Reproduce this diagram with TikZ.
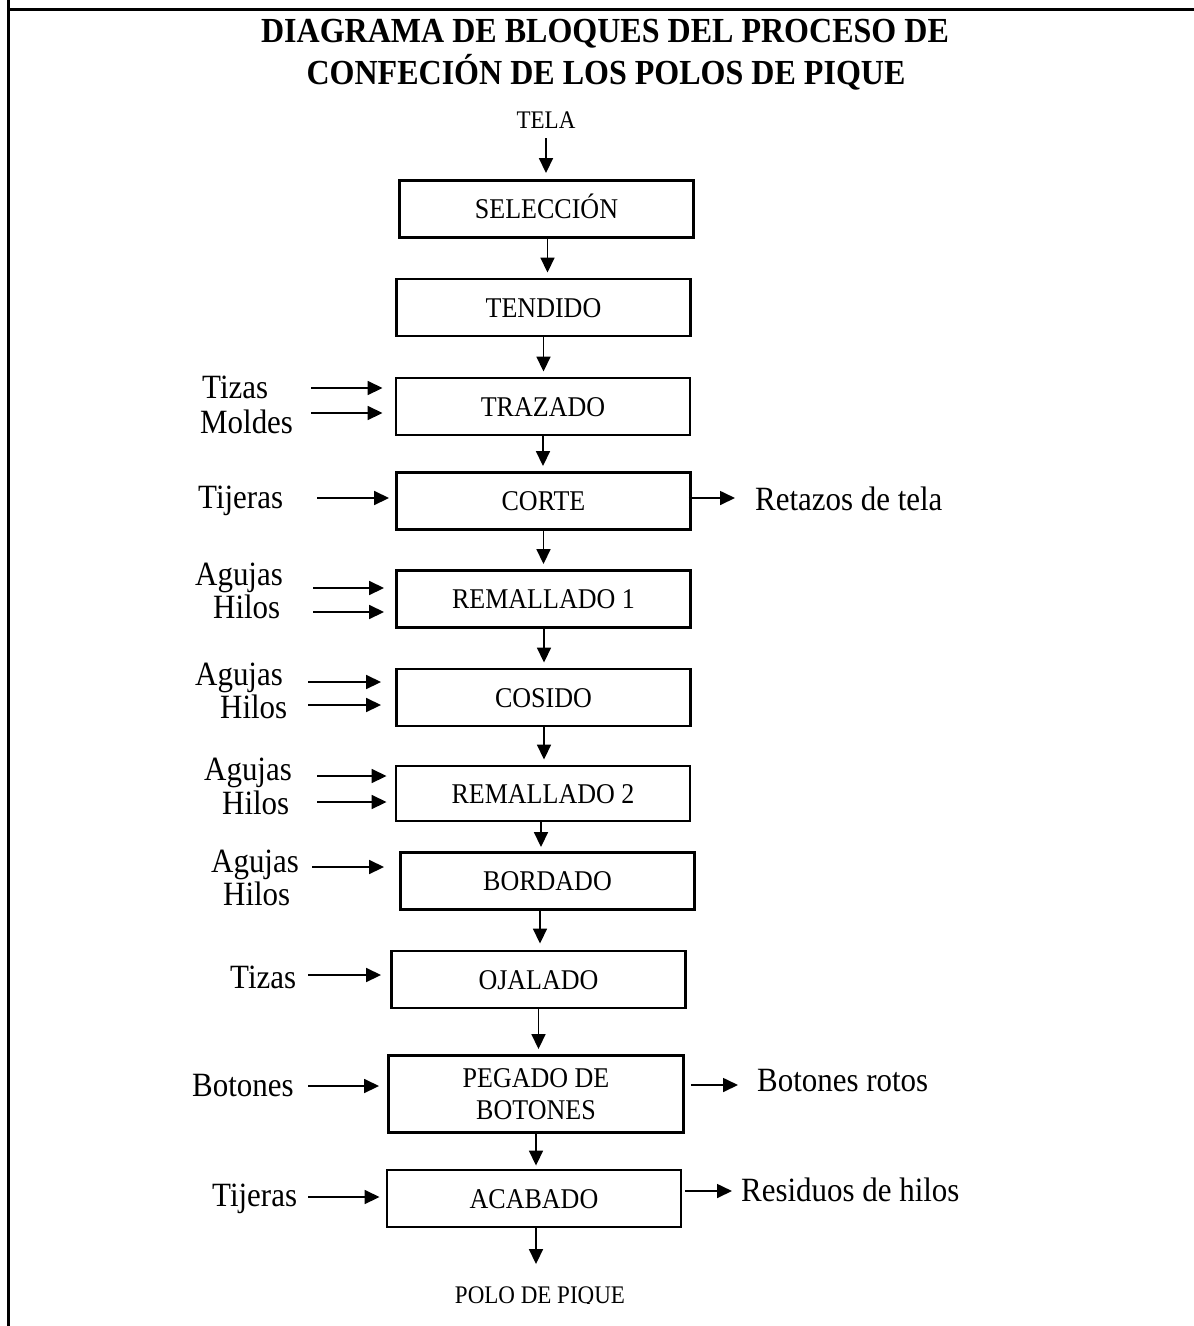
\documentclass[tikz,border=0pt]{standalone}
\usepackage{fontspec}
\setmainfont{Liberation Serif}[FakeStretch=0.91]
\usetikzlibrary{arrows.meta}
\begin{document}
\begin{tikzpicture}[x=1pt,y=-1pt,
  stagebase/.style={draw, line width=2.9pt, minimum width=294pt, minimum height=57pt,
    inner sep=0pt, font=\fontsize{28.6}{32}\selectfont},
  stage/.style={stagebase, text height=19pt, text depth=0pt},
  lbl/.style={anchor=base west, inner sep=0pt, font=\fontsize{34}{37}\selectfont},
  endtxt/.style={anchor=base, inner sep=0pt, font=\fontsize{25.3}{28}\selectfont},
  title/.style={anchor=base, inner sep=0pt, font=\bfseries\fontsize{35.2}{40}\selectfont},
  flow/.style={line width=1.7pt, -{Triangle[length=15pt,width=14pt]}},
]
\useasboundingbox (0,0) rectangle (1194,1326);

% cell border
\draw[line width=3pt] (8.5,0) -- (8.5,1326);
\draw[line width=3pt] (8.5,9) -- (1194,9);

% heading
\node[title] (t1) at (605,42) {DIAGRAMA DE BLOQUES DEL PROCESO DE};
\node[title] (t2) at (606,84) {CONFECIÓN DE LOS POLOS DE PIQUE};

% input and output of the line
\node[endtxt] (tela) at (546,128) {TELA};
\begin{scope}
  \clip (0,0) rectangle (1194,1303.5);
  \node[endtxt] (polo) at (540,1303) {POLO DE PIQUE};
\end{scope}

% process stages
\node[stage] (sel)  at (546.5,209)  {SELECCIÓN};
\node[stage] (ten)  at (543.5,307.5) {TENDIDO};
\node[stage] (tra)  at (543,406.5)  {TRAZADO};
\node[stage] (cor)  at (543.5,501)  {CORTE};
\node[stage] (rem1) at (543.5,599)  {REMALLADO 1};
\node[stage] (cos)  at (543.5,697.5) {COSIDO};
\node[stage, minimum height=55pt] (rem2) at (543,793.5) {REMALLADO 2};
\node[stage] (bor)  at (547.5,881)  {BORDADO};
\node[stage] (oja)  at (538.5,979.5) {OJALADO};
\node[stagebase, minimum width=295pt, minimum height=77pt, align=center] (peg) at (536,1094) {PEGADO DE\\BOTONES};
\node[stage] (aca)  at (534,1198.5) {ACABADO};

% main flow
\draw[flow, shorten <=10pt, shorten >=6pt] (tela.south) -- (tela.south |- sel.north);
\draw[flow, shorten >=5pt] ([xshift=1pt]sel.south) -- ([xshift=1pt]sel.south |- ten.north);
\draw[flow, shorten >=5pt] (ten.south) -- (ten.south |- tra.north);
\draw[flow, shorten >=5pt] (tra.south) -- (tra.south |- cor.north);
\draw[flow, shorten >=5pt] (cor.south) -- (cor.south |- rem1.north);
\draw[flow, shorten >=5pt] ([xshift=0.5pt]rem1.south) -- ([xshift=0.5pt]rem1.south |- cos.north);
\draw[flow, shorten >=5pt] ([xshift=0.5pt]cos.south) -- ([xshift=0.5pt]cos.south |- rem2.north);
\draw[flow, shorten >=4pt] ([xshift=-2pt]rem2.south) -- ([xshift=-2pt]rem2.south |- bor.north);
\draw[flow, shorten >=6pt] ([xshift=-7.5pt]bor.south) -- ([xshift=-7.5pt]bor.south |- oja.north);
\draw[flow, shorten >=5pt] (oja.south) -- (oja.south |- peg.north);
\draw[flow, shorten >=3pt] (peg.south) -- (peg.south |- aca.north);
\draw[flow, shorten >=22pt] ([xshift=2pt]aca.south) -- ([xshift=2pt]aca.south |- polo.north);

% materials fed into each stage
\node[lbl] (tizas1)   at (202,398)  {Tizas};
\node[lbl] (moldes)   at (200,433)  {Moldes};
\node[lbl] (tijeras1) at (198,508)  {Tijeras};
\node[lbl] (agujas1)  at (195,585)  {Agujas};
\node[lbl] (hilos1)   at (213,618)  {Hilos};
\node[lbl] (agujas2)  at (195,685)  {Agujas};
\node[lbl] (hilos2)   at (220,718)  {Hilos};
\node[lbl] (agujas3)  at (204,780)  {Agujas};
\node[lbl] (hilos3)   at (222,814)  {Hilos};
\node[lbl] (agujas4)  at (211,872)  {Agujas};
\node[lbl] (hilos4)   at (223,905)  {Hilos};
\node[lbl] (tizas2)   at (230,988)  {Tizas};
\node[lbl] (botones)  at (192,1096) {Botones};
\node[lbl] (tijeras2) at (212,1206) {Tijeras};

\coordinate (in-tra-a)  at (311,388);
\coordinate (in-tra-b)  at (311,413);
\coordinate (in-cor)    at (317,498);
\coordinate (in-rem1-a) at (313,588);
\coordinate (in-rem1-b) at (313,612);
\coordinate (in-cos-a)  at (308,682);
\coordinate (in-cos-b)  at (308,705);
\coordinate (in-rem2-a) at (317,776);
\coordinate (in-rem2-b) at (317,802);
\coordinate (in-bor)    at (312,867);
\coordinate (in-oja)    at (308,975);
\coordinate (in-peg)    at (308,1086);
\coordinate (in-aca)    at (308,1197);

\draw[flow, shorten >=12pt] (in-tra-a)  -- (in-tra-a -| tra.west);
\draw[flow, shorten >=12pt] (in-tra-b)  -- (in-tra-b -| tra.west);
\draw[flow, shorten >=6pt]  (in-cor)    -- (in-cor -| cor.west);
\draw[flow, shorten >=11pt] (in-rem1-a) -- (in-rem1-a -| rem1.west);
\draw[flow, shorten >=11pt] (in-rem1-b) -- (in-rem1-b -| rem1.west);
\draw[flow, shorten >=14pt] (in-cos-a)  -- (in-cos-a -| cos.west);
\draw[flow, shorten >=14pt] (in-cos-b)  -- (in-cos-b -| cos.west);
\draw[flow, shorten >=8pt]  (in-rem2-a) -- (in-rem2-a -| rem2.west);
\draw[flow, shorten >=8pt]  (in-rem2-b) -- (in-rem2-b -| rem2.west);
\draw[flow, shorten >=15pt] (in-bor)    -- (in-bor -| bor.west);
\draw[flow, shorten >=9pt]  (in-oja)    -- (in-oja -| oja.west);
\draw[flow, shorten >=8pt]  (in-peg)    -- (in-peg -| peg.west);
\draw[flow, shorten >=6pt]  (in-aca)    -- (in-aca -| aca.west);

% waste leaving the line
\node[lbl] (retazos)  at (755,510)  {Retazos de tela};
\node[lbl] (botrotos) at (757,1091) {Botones rotos};
\node[lbl] (residuos) at (741,1201) {Residuos de hilos};

\coordinate (out-cor) at (735,498);
\coordinate (out-peg) at (738,1085);
\coordinate (out-aca) at (732,1191);

\draw[flow, shorten <=-3pt] (out-cor -| cor.east) -- (out-cor);
\draw[flow, shorten <=6pt]  (out-peg -| peg.east) -- (out-peg);
\draw[flow, shorten <=3pt]  (out-aca -| aca.east) -- (out-aca);
\end{tikzpicture}
\end{document}
